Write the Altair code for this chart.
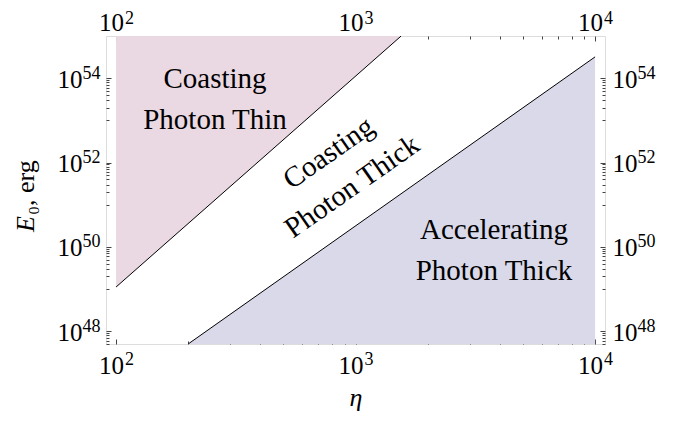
import altair as alt
import pandas as pd

# ---- data ----
upper_eta = [100, 1550]          # boundary thin / thick (coasting)
upper_E = [1.12e49, 1.0e55]
lower_eta = [200, 10000]         # boundary coasting / accelerating
lower_E = [5.0e47, 3.2e54]

region_text = ["Coasting\nPhoton Thin", "Coasting\nPhoton Thick", "Accelerating\nPhoton Thick"]
region_eta = [259, 861, 3785]
region_E = [3.2e53, 6.9e51, 8.5e49]
region_angle = [0, 325, 0]

x_domain = [90.8, 11000]
y_domain = [5.0e47, 1.0e55]

x_major = [1e2, 1e3, 1e4]
x_exp = ["2", "3", "4"]
x_minor = [m * 10 ** e for e in (2, 3) for m in range(2, 10)]
y_major = [1e48, 1e50, 1e52, 1e54]
y_exp = ["48", "50", "52", "54"]
y_minor = [float(m) * 10.0 ** e for e in (47, 49, 51, 53) for m in range(1, 10)
           if 5.0e47 <= float(m) * 10.0 ** e <= 1.0e55]

FONT = "Liberation Serif"
TICK = "#444444"
BASE_FS = 25
EXP_FS = 18


def lab_expr(vals, labs):
    parts = [f"abs(datum.value/{v:.0e} - 1) < 1e-6 ? '{l}'" for v, l in zip(vals, labs)]
    return " : ".join(parts) + " : ''"


xs = alt.Scale(type="log", domain=x_domain, nice=False, zero=False)
ys = alt.Scale(type="log", domain=y_domain, nice=False, zero=False)


def base_axis(orient, vals, title=None, **kw):
    # the "10" part of each tick label, with the major ticks
    return alt.Axis(orient=orient, values=vals, labelExpr=lab_expr(vals, ["10"] * len(vals)),
                    tickSize=5, offset=-5, domain=False, grid=False,
                    tickColor=TICK, labelColor="black", labelFont=FONT,
                    labelFontSize=BASE_FS, labelFlush=False, labelOverlap=False,
                    labelBaseline="alphabetic", title=title, **kw)


def exp_axis(orient, vals, labs, **kw):
    # the exponent part of each tick label
    return alt.Axis(orient=orient, values=vals, labelExpr=lab_expr(vals, labs),
                    tickSize=5, offset=-5, domain=False, grid=False,
                    tickOpacity=0, labelColor="black", labelFont=FONT,
                    labelFontSize=EXP_FS, labelFlush=False, labelOverlap=False,
                    labelBaseline="alphabetic", title=None, **kw)


def minor_axis(orient, vals):
    return alt.Axis(orient=orient, values=vals, labels=False, tickSize=3,
                    offset=-3, domain=False, grid=False, tickColor=TICK,
                    title=None)


upper = pd.DataFrame({"eta": upper_eta, "E": upper_E})
lower = pd.DataFrame({"eta": lower_eta, "E": lower_E})
regions = pd.DataFrame({"eta": region_eta, "E": region_E,
                        "t": region_text, "angle": region_angle})

pink = alt.Chart(upper).mark_area(color="#ead9e3", clip=True).encode(
    x=alt.X("eta:Q", scale=xs, axis=base_axis(
        "bottom", x_major, title="η", labelPadding=29, labelOffset=-5,
        titleFont=FONT, titleFontSize=26, titleFontStyle="italic",
        titleFontWeight="normal", titlePadding=6, titleColor="black")),
    y=alt.Y("E:Q", scale=ys, axis=base_axis("left", y_major, labelPadding=24,
                                            labelOffset=9, labelAlign="right")),
    y2=alt.datum(1.0e55),
)

lav = alt.Chart(lower).mark_area(color="#d9d9ea", clip=True).encode(
    x=alt.X("eta:Q", scale=xs, axis=exp_axis("bottom", x_major, x_exp,
                                             labelPadding=20, labelOffset=13)),
    y=alt.Y("E:Q", scale=ys, axis=exp_axis("left", y_major, y_exp,
                                           labelPadding=6, labelOffset=0, labelAlign="right")),
    y2=alt.datum(5.0e47),
)

line_up = alt.Chart(upper).mark_line(color="black", strokeWidth=1, clip=True).encode(
    x=alt.X("eta:Q", scale=xs, axis=base_axis("top", x_major, labelPadding=6, labelOffset=-5)),
    y=alt.Y("E:Q", scale=ys, axis=base_axis("right", y_major, labelPadding=7,
                                            labelOffset=9, labelAlign="left")),
)

line_low = alt.Chart(lower).mark_line(color="black", strokeWidth=1, clip=True).encode(
    x=alt.X("eta:Q", scale=xs, axis=exp_axis("top", x_major, x_exp,
                                             labelPadding=13, labelOffset=13)),
    y=alt.Y("E:Q", scale=ys, axis=exp_axis("right", y_major, y_exp,
                                           labelPadding=32, labelOffset=0, labelAlign="left")),
)

text = alt.Chart(regions).mark_text(
    font=FONT, fontSize=29, lineBreak="\n", lineHeight=41, dy=-20,
    align="center", baseline="middle", color="black",
).encode(
    x=alt.X("eta:Q", scale=xs, axis=minor_axis("bottom", x_minor)),
    y=alt.Y("E:Q", scale=ys, axis=minor_axis("left", y_minor)),
    text="t:N",
    angle=alt.Angle("angle:Q", scale=None),
)

# invisible copy of a boundary, only to carry the top/right minor ticks
ghost = alt.Chart(lower).mark_line(opacity=0).encode(
    x=alt.X("eta:Q", scale=xs, axis=minor_axis("top", x_minor)),
    y=alt.Y("E:Q", scale=ys, axis=minor_axis("right", y_minor)),
)

# y-axis title: italic E, then subscript and unit
title_e = alt.Chart(pd.DataFrame({"t": ["E"]})).mark_text(
    font=FONT, fontSize=26, fontStyle="italic", angle=270, align="left",
    baseline="middle", color="black",
).encode(text="t:N", x=alt.value(-80), y=alt.value(196))

title_rest = alt.Chart(pd.DataFrame({"t": ["₀, erg"]})).mark_text(
    font=FONT, fontSize=26, angle=270, align="left",
    baseline="middle", color="black",
).encode(text="t:N", x=alt.value(-80), y=alt.value(179))

chart = alt.layer(pink, lav, line_up, line_low, text, ghost, title_e, title_rest).resolve_axis(
    x="independent", y="independent"
).properties(
    width=499, height=308,
    autosize=alt.AutoSizeParams(type="none"),
    padding={"left": 98, "top": 28, "right": 70, "bottom": 70},
).configure_view(
    stroke="#555555", strokeWidth=1
).configure(background="white")

chart.save("out.html", embed_options={"renderer": "svg", "actions": False})
